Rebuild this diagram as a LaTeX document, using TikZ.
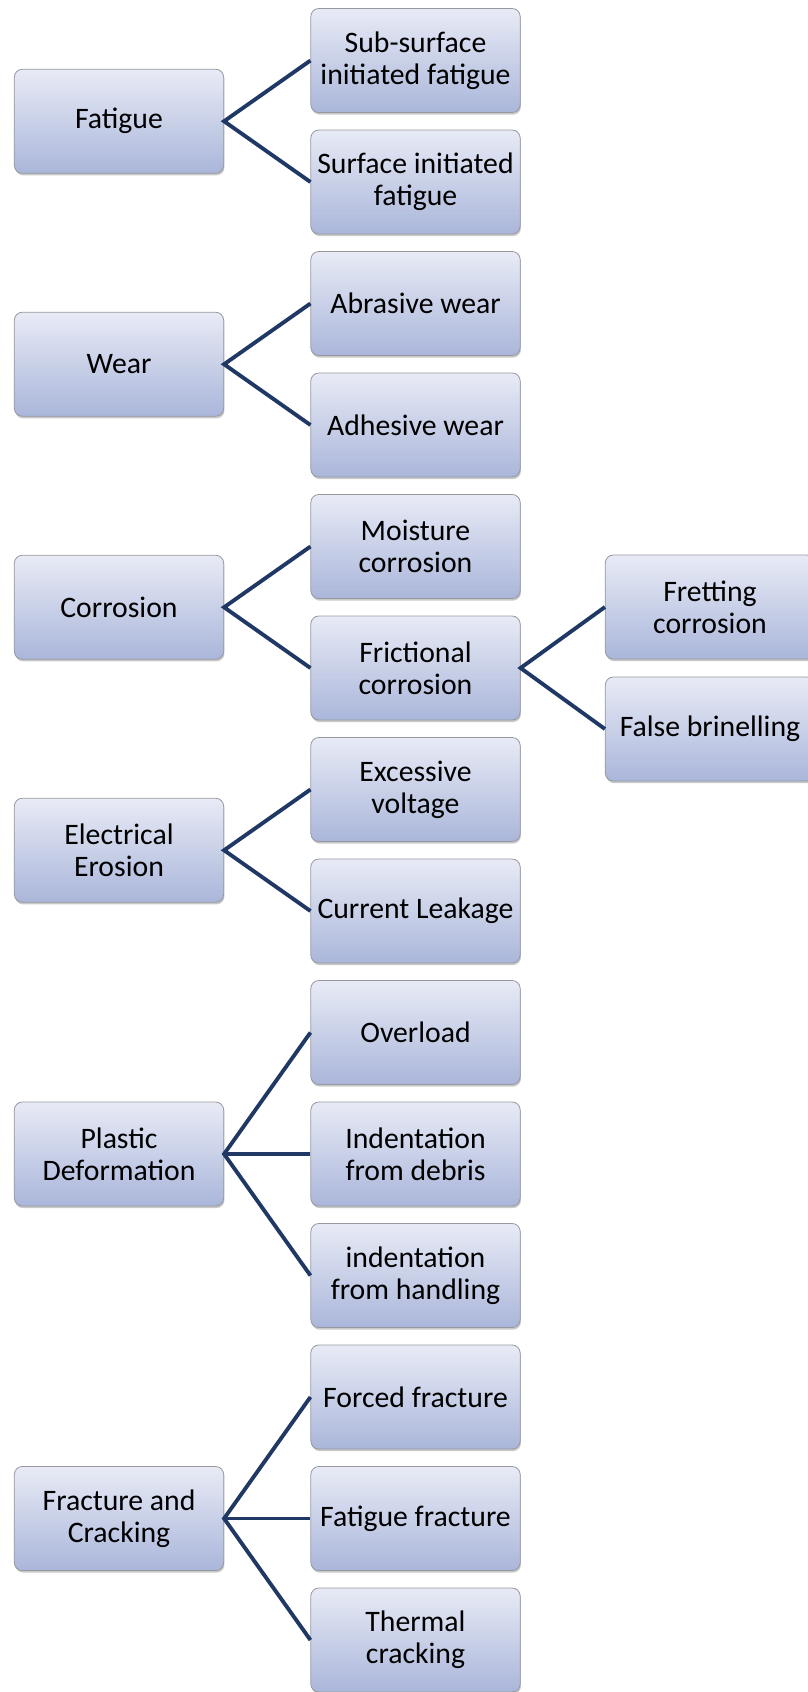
\documentclass[tikz,border=0pt]{standalone}
\usepackage{fontspec}
\setmainfont{Carlito}
\usetikzlibrary{shadows}

\definecolor{boxtop}{RGB}{232,235,246}
\definecolor{boxbot}{RGB}{170,182,218}
\definecolor{boxline}{RGB}{150,152,160}
\definecolor{linkblue}{RGB}{31,56,100}

\tikzset{
    mode/.style={rectangle, rounded corners=6pt, draw=boxline, line width=0.6pt,
        top color=boxtop, bottom color=boxbot,
        minimum width=157pt, minimum height=78pt, inner sep=2pt,
        align=center, font=\fontsize{22.3}{23.8}\selectfont,
        drop shadow={shadow xshift=0.6pt, shadow yshift=-1.6pt, opacity=0.3, fill=black!70}},
    link/.style={draw=linkblue, line width=2.9pt}
}

\begin{document}
\begin{tikzpicture}[x=0.75pt, y=-0.75pt]

        \useasboundingbox (0,0) rectangle (807,1692);

        % ==================== 左侧主失效类型 ====================
        \node[mode] (fat)  at (119,121.25) {Fatigue};
        \node[mode] (wear) at (119,364.25) {Wear};
        \node[mode] (cor)  at (119,607.25) {Corrosion};
        \node[mode] (ele)  at (119,850.25) {Electrical\\Erosion};
        \node[mode] (pla)  at (119,1154)   {Plastic\\Deformation};
        \node[mode] (fra)  at (119,1518.5) {Fracture and\\Cracking};

        % ==================== 中间子类型 ====================
        \node[mode] (subs) at (415.5,60.5)   {Sub-surface\\initiated fatigue};
        \node[mode] (surf) at (415.5,182)    {Surface initiated\\fatigue};
        \node[mode] (abr)  at (415.5,303.5)  {Abrasive wear};
        \node[mode] (adh)  at (415.5,425)    {Adhesive wear};
        \node[mode] (moi)  at (415.5,546.5)  {Moisture\\corrosion};
        \node[mode] (fric) at (415.5,668)    {Frictional\\corrosion};
        \node[mode] (volt) at (415.5,789.5)  {Excessive\\voltage};
        \node[mode] (leak) at (415.5,911)    {Current Leakage};
        \node[mode] (over) at (415.5,1032.5) {Overload};
        \node[mode] (deb)  at (415.5,1154)   {Indentation\\from debris};
        \node[mode] (hand) at (415.5,1275.5) {indentation\\from handling};
        \node[mode] (forc) at (415.5,1397)   {Forced fracture};
        \node[mode] (fatf) at (415.5,1518.5) {Fatigue fracture};
        \node[mode] (therm) at (415.5,1640)  {Thermal\\cracking};

        % ==================== 右侧摩擦腐蚀子类型 ====================
        \node[mode] (fret) at (710,607)    {Fretting\\corrosion};
        \node[mode] (brin) at (710,729)    {False brinelling};

        % ==================== 连线 ====================
        \draw[link] (subs.west) -- (fat.east) -- (surf.west);
        \draw[link] (abr.west) -- (wear.east) -- (adh.west);
        \draw[link] (moi.west) -- (cor.east) -- (fric.west);
        \draw[link] (volt.west) -- (ele.east) -- (leak.west);
        \draw[link] (over.west) -- (pla.east) -- (hand.west);
        \draw[link] (pla.east) -- (deb.west);
        \draw[link] (forc.west) -- (fra.east) -- (therm.west);
        \draw[link] (fra.east) -- (fatf.west);
        \draw[link] (fret.west) -- (fric.east) -- (brin.west);

    \end{tikzpicture}
\end{document}
